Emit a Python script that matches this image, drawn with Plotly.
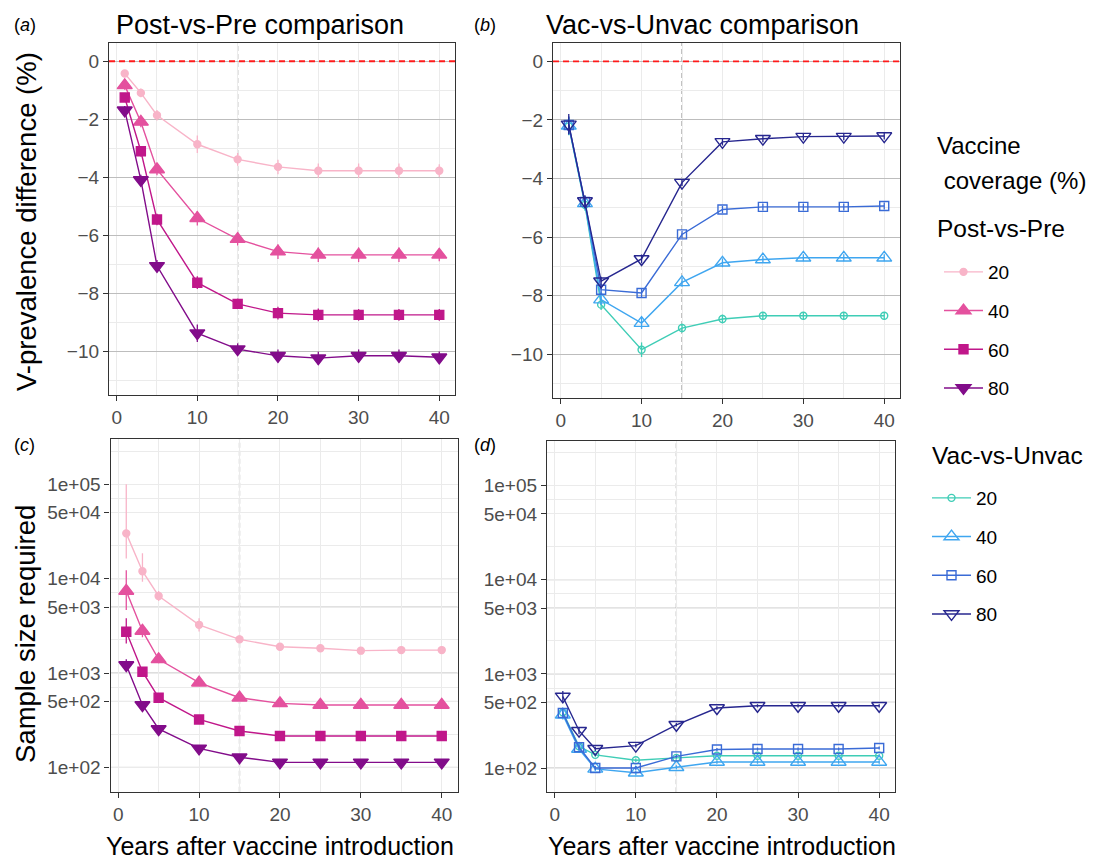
import plotly.graph_objects as go

# page has an 8px body margin: figure is drawn at offset (8, 8)
OFF = 8
W, H = 1088, 854
FONT = "Liberation Sans, Arial, sans-serif"

years = [1, 3, 5, 10, 15, 20, 25, 30, 35, 40]
coverage = ["20", "40", "60", "80"]

# Panel (a): Post-vs-Pre prevalence difference (%)
pre_diff = {
    "20": [-0.42, -1.09, -1.86, -2.86, -3.38, -3.64, -3.77, -3.77, -3.77, -3.77],
    "40": [-0.83, -2.09, -3.73, -5.41, -6.13, -6.56, -6.67, -6.67, -6.67, -6.67],
    "60": [-1.25, -3.10, -5.45, -7.63, -8.36, -8.68, -8.74, -8.74, -8.74, -8.74],
    "80": [-1.69, -4.09, -7.05, -9.37, -9.92, -10.15, -10.23, -10.15, -10.15, -10.20],
}
pre_diff_err = {
    "20": [0.12, 0.15, 0.18, 0.30, 0.22, 0.25, 0.25, 0.25, 0.25, 0.22],
    "40": [0.15, 0.18, 0.20, 0.25, 0.22, 0.25, 0.25, 0.25, 0.25, 0.22],
    "60": [0.15, 0.18, 0.20, 0.22, 0.18, 0.22, 0.22, 0.20, 0.20, 0.20],
    "80": [0.15, 0.18, 0.20, 0.30, 0.20, 0.22, 0.22, 0.22, 0.22, 0.20],
}

# Panel (b): Vac-vs-Unvac prevalence difference (%)
vac_diff = {
    "20": [-2.22, -4.90, -8.31, -9.85, -9.11, -8.80, -8.69, -8.69, -8.69, -8.69],
    "40": [-2.20, -4.85, -8.14, -8.94, -7.55, -6.88, -6.77, -6.71, -6.71, -6.71],
    "60": [-2.17, -4.80, -7.80, -7.91, -5.91, -5.06, -4.97, -4.97, -4.97, -4.94],
    "80": [-2.15, -4.77, -7.51, -6.75, -4.14, -2.75, -2.64, -2.57, -2.57, -2.55],
}
vac_diff_err = {
    "20": [0.30, 0.20, 0.18, 0.25, 0.15, 0.15, 0.12, 0.12, 0.12, 0.12],
    "40": [0.30, 0.20, 0.18, 0.20, 0.15, 0.15, 0.12, 0.12, 0.12, 0.12],
    "60": [0.30, 0.20, 0.15, 0.15, 0.12, 0.12, 0.12, 0.12, 0.12, 0.12],
    "80": [0.35, 0.20, 0.15, 0.15, 0.12, 0.12, 0.12, 0.12, 0.12, 0.12],
}

# Panel (c): Post-vs-Pre sample size required
pre_n = {
    "20": [30200, 12000, 6550, 3240, 2275, 1900, 1830, 1725, 1750, 1750],
    "40": [7400, 2790, 1397, 789, 547, 476, 458, 458, 458, 458],
    "60": [2740, 1033, 547, 322, 243, 215, 215, 215, 215, 215],
    "80": [1216, 458, 255, 159, 128, 113, 113, 113, 113, 113],
}
pre_n_hi = {
    "20": [100000, 18600, 7400, 3800, 2500, 2050, 1950, 1850, 1900, 1850],
    "40": [12300, 3300, 1550, 850, 580, 500, 480, 480, 480, 480],
    "60": [3800, 1150, 590, 340, 252, 222, 222, 222, 222, 222],
    "80": [1400, 490, 268, 165, 132, 116, 116, 116, 116, 116],
}
pre_n_lo = {
    "20": [16400, 9300, 5800, 2750, 2100, 1780, 1720, 1620, 1650, 1650],
    "40": [4650, 2400, 1270, 740, 520, 455, 440, 440, 440, 440],
    "60": [2050, 940, 510, 305, 235, 208, 208, 208, 208, 208],
    "80": [1075, 430, 243, 153, 124, 110, 110, 110, 110, 110],
}

# Panel (d): Vac-vs-Unvac sample size required
vac_n = {
    "20": [390, 170, 138, 121, 128, 135, 135, 135, 135, 135],
    "40": [368, 159, 98, 89, 102, 116, 116, 116, 116, 116],
    "60": [384, 166, 100, 100, 133, 157, 159, 159, 159, 163],
    "80": [576, 249, 160, 173, 288, 434, 458, 458, 458, 458],
}
vac_n_err = {
    "20": [40, 12, 6, 5, 5, 5, 5, 5, 5, 5],
    "40": [40, 12, 5, 5, 5, 5, 5, 5, 5, 5],
    "60": [40, 12, 5, 5, 5, 6, 6, 6, 6, 6],
    "80": [80, 20, 8, 8, 12, 18, 18, 18, 18, 18],
}

pre_colors = {"20": "#F8B4C8", "40": "#E4519E", "60": "#C0178A", "80": "#820C8A"}
vac_colors = {"20": "#3FCDB6", "40": "#3FA6F0", "60": "#3A6BD6", "80": "#27278F"}
pre_symbols = {"20": "circle", "40": "triangle-up", "60": "square", "80": "triangle-down"}
vac_symbols = {"20": "circle-open", "40": "triangle-up-open", "60": "square-open", "80": "triangle-down-open"}
sizes = {"20": 7, "40": 13, "60": 9, "80": 13}

fig = go.Figure()

def add(xa, ya, yvals, col, sym, size, name, group, legend, showlegend,
        err=None, hi=None, lo=None):
    if err is not None:
        ey = dict(type="data", array=err, color=col, thickness=1.3, width=0)
    else:
        ey = dict(type="data", symmetric=False,
                  array=[h - v for h, v in zip(hi, yvals)],
                  arrayminus=[v - l for v, l in zip(yvals, lo)],
                  color=col, thickness=1.3, width=0)
    fig.add_trace(go.Scatter(
        x=years, y=yvals, mode="lines+markers", name=name,
        legendgroup=group, legend=legend, showlegend=showlegend,
        line=dict(color=col, width=1.4),
        marker=dict(symbol=sym, size=size, color=col,
                    line=dict(color=col, width=1.4)),
        error_y=ey, xaxis=xa, yaxis=ya,
    ))

for c in coverage:
    add("x", "y", pre_diff[c], pre_colors[c], pre_symbols[c], sizes[c], c,
        "pre" + c, "legend", True, err=pre_diff_err[c])
    add("x3", "y3", pre_n[c], pre_colors[c], pre_symbols[c], sizes[c], c,
        "pre" + c, "legend", False, hi=pre_n_hi[c], lo=pre_n_lo[c])
for c in coverage:
    add("x2", "y2", vac_diff[c], vac_colors[c], vac_symbols[c], sizes[c], c,
        "vac" + c, "legend2", True, err=vac_diff_err[c])
    add("x4", "y4", vac_n[c], vac_colors[c], vac_symbols[c], sizes[c], c,
        "vac" + c, "legend2", False, err=vac_n_err[c])

def px_x(v):
    return (v - OFF) / W

def px_y(v):
    return 1 - (v - OFF) / H

tickfont = dict(family=FONT, size=19, color="#4D4D4D")
light = "#EBEBEB"
dark = "#BDBDBD"

def xaxis(dom, anchor):
    return dict(domain=[px_x(dom[0]), px_x(dom[1])], anchor=anchor,
                range=[-0.95, 41.95], tickvals=[0, 10, 20, 30, 40],
                showgrid=True, gridcolor=light, gridwidth=1,
                minor=dict(tickvals=[5, 15, 25, 35], showgrid=True, gridcolor=light, ticks=""),
                showline=True, mirror=True, linecolor="#333333", linewidth=1.3,
                ticks="outside", ticklen=5, tickcolor="#333333", tickwidth=1.2,
                tickfont=tickfont, zeroline=False, automargin=False)

def yaxis_lin(dom, anchor):
    return dict(domain=[px_y(dom[1]), px_y(dom[0])], anchor=anchor,
                range=[-11.5, 0.64], tickvals=[0, -2, -4, -6, -8, -10],
                showgrid=True, gridcolor=dark, gridwidth=1,
                minor=dict(tickvals=[-1, -3, -5, -7, -9, -11], showgrid=True, gridcolor=light, ticks=""),
                showline=True, mirror=True, linecolor="#333333", linewidth=1.3,
                ticks="outside", ticklen=5, tickcolor="#333333", tickwidth=1.2,
                tickfont=tickfont, zeroline=False, automargin=False)

logvals = [100, 500, 1000, 5000, 10000, 50000, 100000]
logtext = ["1e+02", "5e+02", "1e+03", "5e+03", "1e+04", "5e+04", "1e+05"]
logminor = [10 ** 2.35, 10 ** 2.85, 10 ** 3.35, 10 ** 3.85, 10 ** 4.35, 10 ** 4.85, 10 ** 5.35]

def yaxis_log(dom, anchor):
    return dict(domain=[px_y(dom[1]), px_y(dom[0])], anchor=anchor,
                type="log", range=[1.742, 5.477], tickvals=logvals, ticktext=logtext,
                showgrid=True, gridcolor=light, gridwidth=1,
                minor=dict(tickvals=logminor, showgrid=True, gridcolor=light, ticks=""),
                showline=True, mirror=True, linecolor="#333333", linewidth=1.3,
                ticks="outside", ticklen=5, tickcolor="#333333", tickwidth=1.2,
                tickfont=tickfont, zeroline=False, automargin=False)

panels = {
    "a": dict(x=(109, 455), y=(42.7, 395)),
    "b": dict(x=(553, 900), y=(42.7, 398)),
    "c": dict(x=(110.5, 457.5), y=(439.3, 791.7)),
    "d": dict(x=(547, 895), y=(440.7, 792.3)),
}

shapes = []
# dark major gridlines on sample-size panels (below 1e+04)
for yr in ["y3", "y4"]:
    xr = "x3 domain" if yr == "y3" else "x4 domain"
    for v in [100, 500, 1000, 5000, 10000]:
        shapes.append(dict(type="line", xref=xr, yref=yr, x0=0, x1=1, y0=v, y1=v,
                           line=dict(color=dark, width=1), layer="below"))
# vertical dashed reference line at 15 years, red dashed zero line
for xr, yr in [("x", "y domain"), ("x2", "y2 domain"), ("x3", "y3 domain"), ("x4", "y4 domain")]:
    shapes.append(dict(type="line", xref=xr, yref=yr, x0=15, x1=15, y0=0, y1=1,
                       line=dict(color="#A0A0A0", width=1.3, dash="5px,3px"), layer="below"))
for xr, yr in [("x domain", "y"), ("x2 domain", "y2")]:
    shapes.append(dict(type="line", xref=xr, yref=yr, x0=0, x1=1, y0=0, y1=0,
                       line=dict(color="#FF1A1A", width=1.8, dash="6px,4px"), layer="above"))

ann = []
def text(x, y, s, size, color="black", xanchor="left", angle=0, yanchor="middle"):
    ann.append(dict(x=px_x(x), y=px_y(y), xref="paper", yref="paper", text=s,
                    showarrow=False, xanchor=xanchor, yanchor=yanchor, textangle=angle,
                    font=dict(family=FONT, size=size, color=color)))

text(114, 8.5, "Post-vs-Pre comparison", 27, yanchor="top")
text(544, 8.5, "Vac-vs-Unvac comparison", 27, yanchor="top")
text(12, 25, "(<i>a</i>)", 18)
text(472, 25, "(<i>b</i>)", 18)
text(12, 445, "(<i>c</i>)", 18)
text(472, 445, "(<i>d</i>)", 18)
text(26, 222, "V-prevalence difference (%)", 27.5, xanchor="center", angle=-90)
text(25, 634, "Sample size required", 27.5, xanchor="center", angle=-90)
text(280, 846, "Years after vaccine introduction", 25, xanchor="center")
text(722, 846, "Years after vaccine introduction", 25, xanchor="center")
text(935, 145, "Vaccine", 24)
text(935, 180, " coverage (%)", 24)
text(935, 229, "Post-vs-Pre", 24.5)
text(930, 455, "Vac-vs-Unvac", 24.5)

legend_common = dict(xanchor="left", yanchor="top", bgcolor="rgba(0,0,0,0)",
                     font=dict(family=FONT, size=19, color="black"),
                     traceorder="grouped", tracegroupgap=11, itemwidth=39)

fig.update_layout(
    width=W, height=H,
    margin=dict(l=0, r=0, t=0, b=0),
    paper_bgcolor="white", plot_bgcolor="white",
    font=dict(family=FONT),
    xaxis=xaxis(panels["a"]["x"], "y"), yaxis=yaxis_lin(panels["a"]["y"], "x"),
    xaxis2=xaxis(panels["b"]["x"], "y2"), yaxis2=yaxis_lin(panels["b"]["y"], "x2"),
    xaxis3=xaxis(panels["c"]["x"], "y3"), yaxis3=yaxis_log(panels["c"]["y"], "x3"),
    xaxis4=xaxis(panels["d"]["x"], "y4"), yaxis4=yaxis_log(panels["d"]["y"], "x4"),
    shapes=shapes, annotations=ann,
    legend=dict(x=px_x(939), y=px_y(253), **legend_common),
    legend2=dict(x=px_x(927), y=px_y(479), **legend_common),
)

fig.write_html("out.html")
